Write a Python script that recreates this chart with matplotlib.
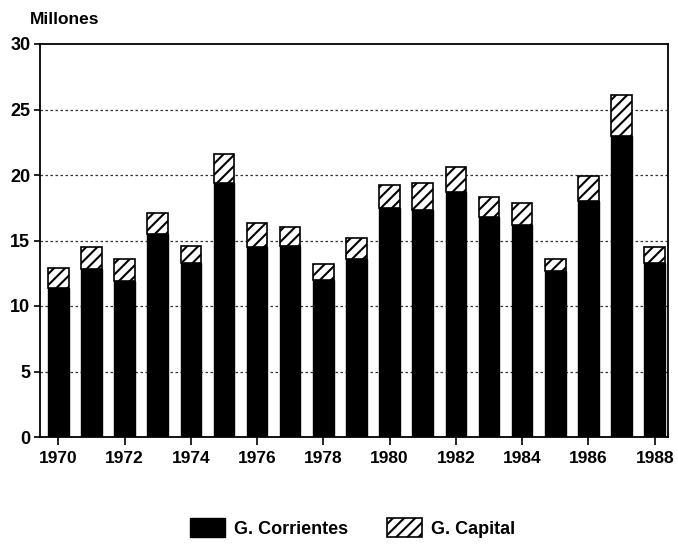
import matplotlib
matplotlib.use("Agg")
import matplotlib.pyplot as plt
import numpy as np

years = list(range(1970, 1989))
corrientes = [11.4, 12.8, 11.9, 15.5, 13.3, 19.4, 14.5, 14.6, 12.0, 13.6,
              17.5, 17.3, 18.7, 16.8, 16.2, 12.7, 18.0, 23.0, 13.3]
totales = [12.9, 14.5, 13.6, 17.1, 14.6, 21.6, 16.3, 16.0, 13.2, 15.2,
           19.2, 19.4, 20.6, 18.3, 17.9, 13.6, 19.9, 26.1, 14.5]
capital = [round(t - c, 2) for t, c in zip(totales, corrientes)]
tick_years = list(range(1970, 1989, 2))
yticks = [0, 5, 10, 15, 20, 25, 30]

plt.rcParams['font.family'] = ['Liberation Sans', 'DejaVu Sans']
plt.rcParams['hatch.linewidth'] = 1.5

fig = plt.figure(figsize=(6.78, 5.45), dpi=100)
ax = fig.add_axes([40/678, 1 - 437/545, (668-40)/678, (437-44)/545])

x = np.arange(len(years))
ax.bar(x, corrientes, width=0.62, color='black', edgecolor='black', linewidth=1,
       label='G. Corrientes', zorder=3)
ax.bar(x, capital, bottom=corrientes, width=0.62, color='white', edgecolor='black',
       linewidth=1.2, hatch='///', label='G. Capital', zorder=3)

ax.set_xlim(-0.55, 18.4)
ax.set_ylim(0, 30)
ax.set_yticks(yticks)
ax.set_yticklabels([str(v) for v in yticks], fontsize=13, fontweight='bold')
ax.set_xticks([years.index(y) for y in tick_years])
ax.set_xticklabels([str(y) for y in tick_years], fontsize=12.5, fontweight='bold')
ax.tick_params(axis='x', direction='out', length=6, width=1.2, pad=4)
ax.tick_params(axis='y', direction='out', length=4, width=1.2, pad=3)

for v in [5, 10, 15, 20, 25]:
    ax.axhline(v, color='#333333', linestyle=(0, (2, 2)), linewidth=0.9, zorder=1)

for s in ax.spines.values():
    s.set_linewidth(1.3)

fig.text(30/678, 1 - 20/545, 'Millones', fontsize=12.5, fontweight='bold', va='center', ha='left')

handles, labels = ax.get_legend_handles_labels()
fig.legend(handles, labels, loc='center', bbox_to_anchor=(0.52, 1 - 528/545), ncol=2,
           frameon=False, prop={'weight': 'bold', 'size': 13},
           handlelength=1.9, handleheight=1.2, columnspacing=2.2, handletextpad=0.5)

fig.savefig('out.png', dpi=100)
